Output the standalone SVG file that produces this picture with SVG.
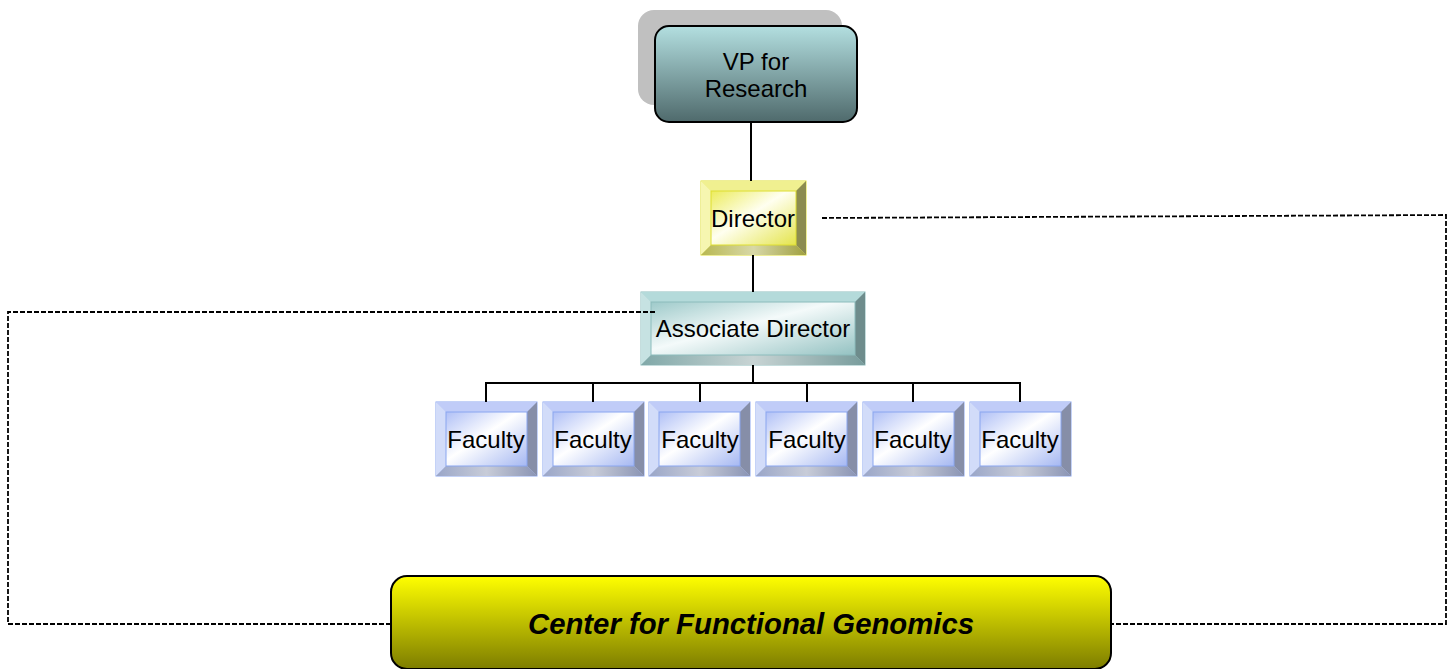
<svg xmlns="http://www.w3.org/2000/svg" width="1453" height="669" viewBox="0 0 1453 669">
<defs>
<linearGradient id="gVP" x1="0" y1="0" x2="0" y2="1"><stop offset="0" stop-color="#b3dfe0"/><stop offset="1" stop-color="#4f6a6c"/></linearGradient>
<linearGradient id="gCenter" x1="0" y1="0" x2="0" y2="1"><stop offset="0" stop-color="#ffff00"/><stop offset="1" stop-color="#7d7d00"/></linearGradient>
<linearGradient id="gFac" x1="0" y1="0" x2="1" y2="1"><stop offset="0" stop-color="#b0c0f6"/><stop offset="0.45" stop-color="#ffffff"/><stop offset="1" stop-color="#a6b8f2"/></linearGradient>
<linearGradient id="gDir" x1="0" y1="0" x2="1" y2="1"><stop offset="0" stop-color="#ecec5c"/><stop offset="0.45" stop-color="#fffff0"/><stop offset="1" stop-color="#e4e44c"/></linearGradient>
<linearGradient id="gAD" x1="0" y1="0" x2="1" y2="1"><stop offset="0" stop-color="#9ecaca"/><stop offset="0.45" stop-color="#f4fafa"/><stop offset="1" stop-color="#94c2c2"/></linearGradient>
<linearGradient id="gBotF" x1="0" y1="0" x2="1" y2="0"><stop offset="0" stop-color="#9aa6c8"/><stop offset="0.5" stop-color="#c8ccd8"/><stop offset="1" stop-color="#8a94b4"/></linearGradient>
<linearGradient id="gBotD" x1="0" y1="0" x2="1" y2="0"><stop offset="0" stop-color="#b8b850"/><stop offset="0.5" stop-color="#d8d8a8"/><stop offset="1" stop-color="#a0a040"/></linearGradient>
<linearGradient id="gBotA" x1="0" y1="0" x2="1" y2="0"><stop offset="0" stop-color="#80a8a8"/><stop offset="0.5" stop-color="#c8d4d4"/><stop offset="1" stop-color="#789c9c"/></linearGradient>
</defs>
<style>
text{font-family:"Liberation Sans",Arial,sans-serif;font-size:24px;fill:#000;text-anchor:middle}
.solid{stroke:#000;stroke-width:2;fill:none}
.dash{stroke:#000;stroke-width:1.8;fill:none;stroke-dasharray:5,2}
.fb{stroke:#8aa6f0;stroke-width:1}
.db{stroke:#dede30;stroke-width:1}
.ab{stroke:#8cbcbc;stroke-width:1}
</style>

<g id="vp">
<rect x="638" y="10" width="204" height="95" rx="16" fill="#c0c0c0"/>
<rect x="655" y="26" width="202" height="96" rx="14" fill="url(#gVP)" stroke="#000" stroke-width="2"/>
<text x="756" y="70">VP for</text>
<text x="756" y="97">Research</text>
</g>

<g id="director">
<rect x="701" y="181" width="105" height="74" fill="#e8e870" class="db"/>
<polygon points="701,181 806,181 796,191 711,191" fill="#f0f090"/>
<polygon points="701,181 711,191 711,245 701,255" fill="#f6f6b0"/>
<polygon points="806,181 806,255 796,245 796,191" fill="#8c8c50"/>
<polygon points="701,255 711,245 796,245 806,255" fill="url(#gBotD)"/>
<rect x="711" y="191" width="85" height="54" fill="url(#gDir)" class="db"/>
<text x="753" y="227">Director</text>
</g>

<g id="assoc">
<rect x="641" y="292" width="224" height="73" fill="#a8d0d0" class="ab"/>
<polygon points="641,292 865,292 855,302 651,302" fill="#b4dada"/>
<polygon points="641,292 651,302 651,355 641,365" fill="#c6e2e2"/>
<polygon points="865,292 865,365 855,355 855,302" fill="#6e8c8c"/>
<polygon points="641,365 651,355 855,355 865,365" fill="url(#gBotA)"/>
<rect x="651" y="302" width="204" height="53" fill="url(#gAD)" class="ab"/>
<text x="753" y="337">Associate Director</text>
</g>

<g id="fac1">
<rect x="436" y="402" width="101" height="74" fill="#b4c4f6" class="fb"/>
<polygon points="436,402 537,402 527,412 446,412" fill="#c0ccf8"/>
<polygon points="436,402 446,412 446,466 436,476" fill="#d2dcf9"/>
<polygon points="537,402 537,476 527,466 527,412" fill="#868ea8"/>
<polygon points="436,476 446,466 527,466 537,476" fill="url(#gBotF)"/>
<rect x="446" y="412" width="81" height="54" fill="url(#gFac)" class="fb"/>
<text x="486" y="448">Faculty</text>
</g>
<g id="fac2">
<rect x="543" y="402" width="101" height="74" fill="#b4c4f6" class="fb"/>
<polygon points="543,402 644,402 634,412 553,412" fill="#c0ccf8"/>
<polygon points="543,402 553,412 553,466 543,476" fill="#d2dcf9"/>
<polygon points="644,402 644,476 634,466 634,412" fill="#868ea8"/>
<polygon points="543,476 553,466 634,466 644,476" fill="url(#gBotF)"/>
<rect x="553" y="412" width="81" height="54" fill="url(#gFac)" class="fb"/>
<text x="593" y="448">Faculty</text>
</g>
<g id="fac3">
<rect x="649" y="402" width="101" height="74" fill="#b4c4f6" class="fb"/>
<polygon points="649,402 750,402 740,412 659,412" fill="#c0ccf8"/>
<polygon points="649,402 659,412 659,466 649,476" fill="#d2dcf9"/>
<polygon points="750,402 750,476 740,466 740,412" fill="#868ea8"/>
<polygon points="649,476 659,466 740,466 750,476" fill="url(#gBotF)"/>
<rect x="659" y="412" width="81" height="54" fill="url(#gFac)" class="fb"/>
<text x="700" y="448">Faculty</text>
</g>
<g id="fac4">
<rect x="756" y="402" width="101" height="74" fill="#b4c4f6" class="fb"/>
<polygon points="756,402 857,402 847,412 766,412" fill="#c0ccf8"/>
<polygon points="756,402 766,412 766,466 756,476" fill="#d2dcf9"/>
<polygon points="857,402 857,476 847,466 847,412" fill="#868ea8"/>
<polygon points="756,476 766,466 847,466 857,476" fill="url(#gBotF)"/>
<rect x="766" y="412" width="81" height="54" fill="url(#gFac)" class="fb"/>
<text x="807" y="448">Faculty</text>
</g>
<g id="fac5">
<rect x="863" y="402" width="101" height="74" fill="#b4c4f6" class="fb"/>
<polygon points="863,402 964,402 954,412 873,412" fill="#c0ccf8"/>
<polygon points="863,402 873,412 873,466 863,476" fill="#d2dcf9"/>
<polygon points="964,402 964,476 954,466 954,412" fill="#868ea8"/>
<polygon points="863,476 873,466 954,466 964,476" fill="url(#gBotF)"/>
<rect x="873" y="412" width="81" height="54" fill="url(#gFac)" class="fb"/>
<text x="913" y="448">Faculty</text>
</g>
<g id="fac6">
<rect x="970" y="402" width="101" height="74" fill="#b4c4f6" class="fb"/>
<polygon points="970,402 1071,402 1061,412 980,412" fill="#c0ccf8"/>
<polygon points="970,402 980,412 980,466 970,476" fill="#d2dcf9"/>
<polygon points="1071,402 1071,476 1061,466 1061,412" fill="#868ea8"/>
<polygon points="970,476 980,466 1061,466 1071,476" fill="url(#gBotF)"/>
<rect x="980" y="412" width="81" height="54" fill="url(#gFac)" class="fb"/>
<text x="1020" y="448">Faculty</text>
</g>

<g id="center">
<rect x="391" y="576" width="720" height="93" rx="16" fill="url(#gCenter)" stroke="#000" stroke-width="2"/>
<text x="751" y="634" style="font-size:29.3px;font-weight:bold;font-style:italic">Center for Functional Genomics</text>
</g>

<g id="connectors">
<line class="solid" x1="751" y1="123" x2="751" y2="181"/>
<line class="solid" x1="753" y1="255" x2="753" y2="292"/>
<line class="solid" x1="753" y1="365" x2="753" y2="383"/>
<polyline class="solid" points="486,402 486,383 1020,383 1020,402"/>
<line class="solid" x1="593" y1="383" x2="593" y2="402"/>
<line class="solid" x1="700" y1="383" x2="700" y2="402"/>
<line class="solid" x1="807" y1="383" x2="807" y2="402"/>
<line class="solid" x1="913" y1="383" x2="913" y2="402"/>
<polyline class="dash" points="822,218 1446,215 1446,624 1112,624"/>
<polyline class="dash" points="655,312 8,312 8,624 390,624"/>
</g>
</svg>
